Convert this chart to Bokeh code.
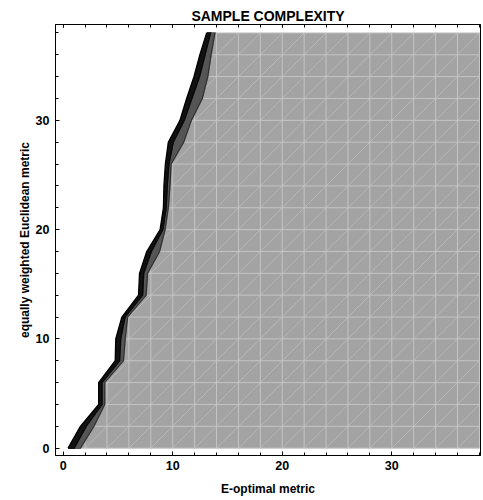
from bokeh.plotting import figure
from bokeh.models import Range1d, SingleIntervalTicker, LinearAxis, CustomJSTickFormatter
from bokeh.embed import file_html
from bokeh.resources import INLINE

# Sample levels along the equally weighted Euclidean metric
y_levels = [0, 2, 4, 6, 8, 10, 12, 14, 16, 18, 20, 22, 24, 26, 28, 30, 32, 34, 36, 38]

# Contour positions along the E-optimal metric for each level
x_outer = [0.45, 1.57, 3.24, 3.24, 4.75, 4.80, 5.36, 6.88, 6.97, 7.63,
           8.85, 9.15, 9.20, 9.33, 9.60, 10.66, 11.27, 11.94, 12.48, 13.10]
x_mid = [1.00, 2.10, 3.55, 3.55, 5.15, 5.25, 5.65, 7.25, 7.35, 8.05,
         9.10, 9.40, 9.50, 9.65, 10.05, 11.05, 11.75, 12.45, 12.95, 13.45]
x_inner = [1.57, 2.80, 3.79, 3.79, 5.50, 5.66, 5.88, 7.57, 7.70, 8.80,
           9.30, 9.60, 9.75, 9.85, 11.00, 11.70, 12.70, 13.20, 13.50, 13.85]

# Sampling mesh of the plateau region
mesh_x = [0, 2, 4, 6, 8, 10, 12, 14, 16, 18, 20, 22, 24, 26, 28, 30, 32, 34, 36, 38]
mesh_y = [0, 2, 4, 6, 8, 10, 12, 14, 16, 18, 20, 22, 24, 26, 28, 30, 32, 34, 36, 38]

FONT = "Liberation Sans"

x_lo, x_hi = min(mesh_x), max(mesh_x)
y_lo, y_hi = min(mesh_y), max(mesh_y)

x_rng = Range1d(-0.7, 38.1)
y_rng = Range1d(-0.67, 38.77)

p = figure(width=483, height=500, x_range=x_rng, y_range=y_rng,
           output_backend="svg", toolbar_location=None,
           min_border_left=55, min_border_right=3,
           min_border_top=24, min_border_bottom=45)

p.background_fill_color = "white"
p.border_fill_color = "white"
p.outline_line_color = "black"
p.outline_line_width = 1
p.xgrid.visible = False
p.ygrid.visible = False

# plateau fill
p.quad(left=[x_lo], right=[x_hi], bottom=[y_lo], top=[y_hi],
       fill_color="#a3a3a3", line_color=None)

# mesh lines: verticals, horizontals, diagonals
mesh_col = "#c4c4c4"
p.segment(x0=mesh_x, y0=[y_lo] * len(mesh_x), x1=mesh_x, y1=[y_hi] * len(mesh_x),
          line_color=mesh_col, line_width=1)
p.segment(x0=[x_lo] * len(mesh_y), y0=mesh_y, x1=[x_hi] * len(mesh_y), y1=mesh_y,
          line_color=mesh_col, line_width=1)
dx0, dy0, dx1, dy1 = [], [], [], []
for c in range(-(y_hi - y_lo), (x_hi - x_lo) + 1, mesh_x[1] - mesh_x[0]):
    sx, sy = (x_lo + c, y_lo) if c >= 0 else (x_lo, y_lo - c)
    span = min(x_hi - sx, y_hi - sy)
    if span <= 0:
        continue
    dx0.append(sx); dy0.append(sy); dx1.append(sx + span); dy1.append(sy + span)
p.segment(x0=dx0, y0=dy0, x1=dx1, y1=dy1, line_color="#cccccc", line_width=0.6,
          line_alpha=0.85)


def band(edge):
    xs = [x_lo] + list(edge) + [x_lo]
    ys = [y_levels[0]] + list(y_levels) + [y_levels[-1]]
    return xs, ys


# contour bands, innermost first
for edge, col in ((x_inner, "#555555"), (x_mid, "#111111")):
    xs, ys = band(edge)
    p.patch(xs, ys, fill_color=col, line_color=col, line_width=1.5,
            line_join="miter")

# region below the lowest contour, reaching out to the frame
wx = [x_rng.start, x_outer[0]] + x_outer + [x_outer[-1], x_rng.start]
wy = [y_rng.start, y_rng.start] + y_levels + [y_rng.end, y_rng.end]
p.patch(wx, wy, fill_color="white", line_color=None)

p.line(x_inner, y_levels, line_color="#222222", line_width=0.8)
p.line(x_mid, y_levels, line_color="#000000", line_width=0.6)
p.line(x_outer, y_levels, line_color="#000000", line_width=1.3)

# title
p.title.text = "SAMPLE COMPLEXITY"
p.title.align = "center"
p.title.text_font = FONT
p.title.text_font_size = "14px"
p.title.text_font_style = "bold"
p.title.text_color = "black"
p.title.standoff = 2

for ax in (p.xaxis[0], p.yaxis[0]):
    ax.ticker = SingleIntervalTicker(interval=10, num_minor_ticks=5)
    ax.major_tick_in = 4
    ax.major_tick_out = 0
    ax.minor_tick_in = 3
    ax.minor_tick_out = 0
    ax.axis_line_color = "black"
    ax.major_tick_line_color = "black"
    ax.minor_tick_line_color = "black"
    ax.major_label_text_font = FONT
    ax.major_label_text_font_style = "bold"
    ax.major_label_text_font_size = "12.5px"
    ax.major_label_text_color = "black"
    ax.axis_label_text_font = FONT
    ax.axis_label_text_font_style = "bold"
    ax.axis_label_text_font_size = "12px"
    ax.axis_label_text_color = "black"

p.xaxis.axis_label = "E-optimal metric"
p.xaxis.major_label_standoff = 5
p.xaxis.axis_label_standoff = 9
p.yaxis.axis_label = "equally weighted Euclidean metric"
p.yaxis.major_label_standoff = 6
p.yaxis.axis_label_standoff = 1

# tick marks along the top of the frame, no labels
top = LinearAxis(ticker=SingleIntervalTicker(interval=10, num_minor_ticks=5),
                 major_tick_in=3, major_tick_out=0, minor_tick_in=3, minor_tick_out=0,
                 major_tick_line_color="black", minor_tick_line_color="black",
                 formatter=CustomJSTickFormatter(code="return '';"),
                 major_label_standoff=0, axis_line_color="black")
p.add_layout(top, "above")

open("out.html", "w").write(file_html(p, INLINE))
